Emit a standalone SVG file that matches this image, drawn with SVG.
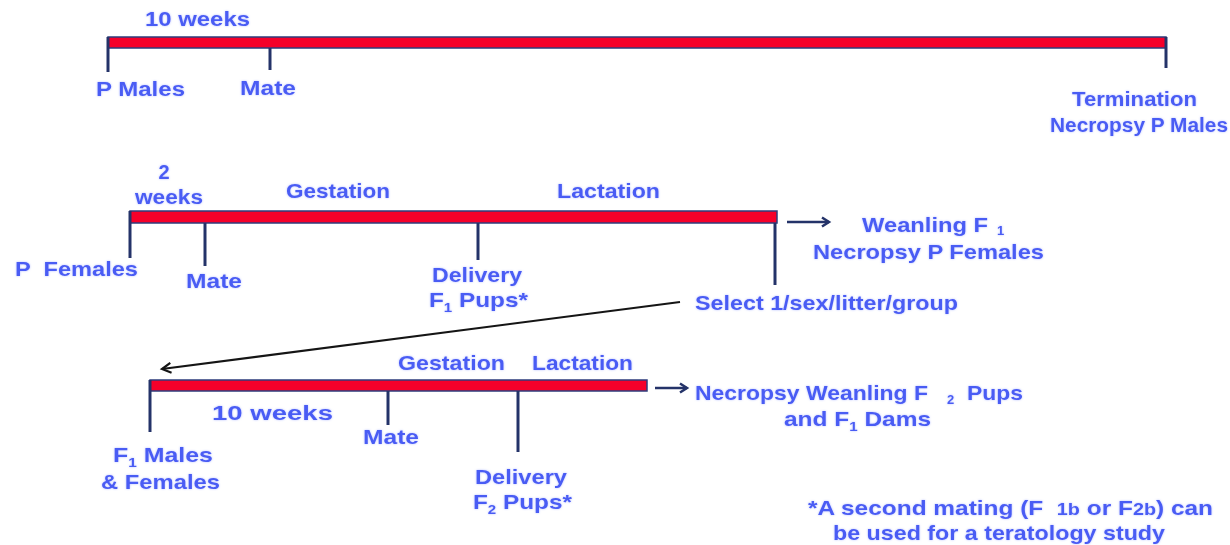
<svg xmlns="http://www.w3.org/2000/svg" width="1230" height="545" viewBox="0 0 1230 545">
  <defs>
    <style>
      .t { font-family: "Liberation Sans", Arial, sans-serif; font-weight: bold; font-size: 20px; fill: #4a5cf4; filter: url(#glow); }
      .m { font-size: 21px; }
      .sub { font-size: 13px; }
      .bar { fill: #f5002a; stroke: #2e3d7c; stroke-width: 1.5; }
      .tick { stroke: #243369; stroke-width: 3; fill: none; }
      .go { stroke: #243369; stroke-width: 2.5; fill: none; }
      .back { stroke: #151515; stroke-width: 2.2; fill: none; }
    </style>
    <!-- soft halo behind the labels -->
    <filter id="glow" x="-10%" y="-30%" width="120%" height="160%">
      <feGaussianBlur in="SourceAlpha" stdDeviation="1.2" result="b"/>
      <feFlood flood-color="#9aa8ff" flood-opacity="0.7"/>
      <feComposite in2="b" operator="in" result="halo"/>
      <feMerge>
        <feMergeNode in="halo"/>
        <feMergeNode in="SourceGraphic"/>
      </feMerge>
    </filter>
    <marker id="headNavy" markerWidth="12" markerHeight="12" refX="9" refY="6" orient="auto" markerUnits="userSpaceOnUse">
      <path d="M2,1.5 L9,6 L2,10.5" fill="none" stroke="#243369" stroke-width="2.5"/>
    </marker>
    <marker id="headBlack" markerWidth="14" markerHeight="14" refX="11" refY="7" orient="auto" markerUnits="userSpaceOnUse">
      <path d="M2,2 L11,7 L2,12" fill="none" stroke="#151515" stroke-width="2.2"/>
    </marker>
  </defs>

  <!-- P males timeline -->
  <g id="p-males">
    <rect class="bar" x="108" y="37" width="1058" height="11"/>
    <line class="tick" x1="108" y1="37" x2="108" y2="72"/>
    <line class="tick" x1="270" y1="48" x2="270" y2="70"/>
    <line class="tick" x1="1166" y1="37" x2="1166" y2="68"/>
    <text class="t" x="145" y="26" textLength="105" lengthAdjust="spacingAndGlyphs">10 weeks</text>
    <text class="t" x="96" y="96" textLength="89" lengthAdjust="spacingAndGlyphs">P Males</text>
    <text class="t" x="240" y="95" textLength="56" lengthAdjust="spacingAndGlyphs">Mate</text>
    <text class="t" x="1072" y="106" textLength="125" lengthAdjust="spacingAndGlyphs">Termination</text>
    <text class="t" x="1050" y="132" textLength="178" lengthAdjust="spacingAndGlyphs">Necropsy P Males</text>
  </g>

  <!-- P females timeline -->
  <g id="p-females">
    <rect class="bar" x="130" y="211" width="647" height="12"/>
    <line class="tick" x1="130" y1="211" x2="130" y2="258"/>
    <line class="tick" x1="205" y1="223" x2="205" y2="266"/>
    <line class="tick" x1="478" y1="223" x2="478" y2="260"/>
    <line class="tick" x1="775" y1="223" x2="775" y2="285"/>
    <text class="t" x="164" y="179" text-anchor="middle">2</text>
    <text class="t" x="135" y="204" textLength="68" lengthAdjust="spacingAndGlyphs">weeks</text>
    <text class="t m" x="286" y="198" textLength="104" lengthAdjust="spacingAndGlyphs">Gestation</text>
    <text class="t m" x="557" y="198" textLength="103" lengthAdjust="spacingAndGlyphs">Lactation</text>
    <text class="t m" x="15" y="276" textLength="123" lengthAdjust="spacingAndGlyphs" xml:space="preserve">P  Females</text>
    <text class="t m" x="186" y="288" textLength="56" lengthAdjust="spacingAndGlyphs">Mate</text>
    <text class="t m" x="432" y="282" textLength="90" lengthAdjust="spacingAndGlyphs">Delivery</text>
    <text class="t m" x="429" y="307" textLength="99" lengthAdjust="spacingAndGlyphs">F<tspan class="sub" dy="5">1</tspan><tspan dy="-5"> Pups*</tspan></text>
    <text class="t m" x="862" y="232"><tspan textLength="126" lengthAdjust="spacingAndGlyphs">Weanling F</tspan><tspan class="sub" x="997" dy="3">1</tspan></text>
    <text class="t m" x="813" y="259" textLength="231" lengthAdjust="spacingAndGlyphs">Necropsy P Females</text>
    <text class="t m" x="695" y="310" textLength="263" lengthAdjust="spacingAndGlyphs">Select 1/sex/litter/group</text>
  </g>

  <!-- F1 generation timeline -->
  <g id="f1-generation">
    <rect class="bar" x="150" y="380" width="497" height="11"/>
    <line class="tick" x1="150" y1="380" x2="150" y2="432"/>
    <line class="tick" x1="388" y1="391" x2="388" y2="425"/>
    <line class="tick" x1="518" y1="391" x2="518" y2="452"/>
    <text class="t m" x="398" y="370" textLength="107" lengthAdjust="spacingAndGlyphs">Gestation</text>
    <text class="t m" x="532" y="370" textLength="101" lengthAdjust="spacingAndGlyphs">Lactation</text>
    <text class="t" x="212" y="420" font-size="23" textLength="121" lengthAdjust="spacingAndGlyphs">10 weeks</text>
    <text class="t m" x="363" y="444" textLength="56" lengthAdjust="spacingAndGlyphs">Mate</text>
    <text class="t m" x="113" y="462" textLength="100" lengthAdjust="spacingAndGlyphs">F<tspan class="sub" dy="5">1</tspan><tspan dy="-5"> Males</tspan></text>
    <text class="t m" x="101" y="489" textLength="119" lengthAdjust="spacingAndGlyphs">&amp; Females</text>
    <text class="t m" x="475" y="484" textLength="92" lengthAdjust="spacingAndGlyphs">Delivery</text>
    <text class="t m" x="473" y="509" textLength="99" lengthAdjust="spacingAndGlyphs">F<tspan class="sub" dy="5">2</tspan><tspan dy="-5"> Pups*</tspan></text>
    <text class="t m" x="695" y="400"><tspan textLength="233" lengthAdjust="spacingAndGlyphs">Necropsy Weanling F</tspan><tspan class="sub" x="947" dy="4">2</tspan><tspan x="967" dy="-4" textLength="56" lengthAdjust="spacingAndGlyphs">Pups</tspan></text>
    <text class="t m" x="784" y="426" textLength="147" lengthAdjust="spacingAndGlyphs">and F<tspan class="sub" dy="5">1</tspan><tspan dy="-5"> Dams</tspan></text>
  </g>

  <!-- Footnote -->
  <g id="footnote">
    <text class="t m" x="808" y="515" textLength="405" lengthAdjust="spacingAndGlyphs" xml:space="preserve">*A second mating (F  <tspan font-size="17">1b</tspan> or F<tspan font-size="17">2b</tspan>) can</text>
    <text class="t m" x="833" y="540" textLength="332" lengthAdjust="spacingAndGlyphs">be used for a teratology study</text>
  </g>

  <!-- Connectors -->
  <g id="connectors">
    <line class="go" x1="787" y1="222" x2="829" y2="222" marker-end="url(#headNavy)"/>
    <line class="go" x1="655" y1="388" x2="687" y2="388" marker-end="url(#headNavy)"/>
    <line class="back" x1="680" y1="302" x2="162" y2="369" marker-end="url(#headBlack)"/>
  </g>
</svg>
